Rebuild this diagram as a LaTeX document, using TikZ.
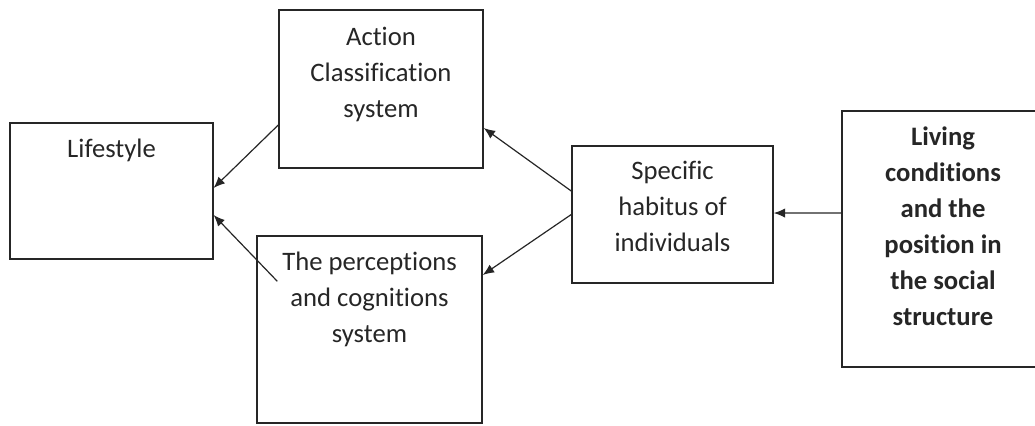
\documentclass[tikz,border=0pt]{standalone}
\usepackage{fontspec}
\setmainfont{Carlito}[Ligatures=NoCommon]
\usetikzlibrary{arrows.meta}
\begin{document}
\begin{tikzpicture}[x=0.75pt, y=-0.75pt, >={Latex[length=8.5pt,width=7pt]}]
		\tikzset{recstyle/.style={rectangle, draw=black!85, line width=1.1pt, inner sep=0pt}}
		\tikzset{txtstyle/.style={anchor=north, align=center, inner sep=0pt, text=black!85, font=\fontsize{20}{27}\selectfont}}
		\tikzset{arrstyle/.style={->, draw=black!85, line width=0.9pt}}
		
		\clip (0,0) rectangle (1035,425);
		\node[recstyle, minimum width=152pt, minimum height=102pt] (rectlife) at (111.5,191) {};
		\node[recstyle, minimum width=153pt, minimum height=118.5pt] (rectact) at (381,89) {};
		\node[recstyle, minimum width=168.75pt, minimum height=140.25pt] (rectperc) at (369.5,329.5) {};
		\node[recstyle, minimum width=150.75pt, minimum height=102.75pt] (rectspec) at (672.5,214.5) {};
		\node[recstyle, minimum width=151.5pt, minimum height=192pt] (rectliving) at (943,239) {};
		
		\node[txtstyle] (txtlife) at ([yshift=-12pt]rectlife.north) {Lifestyle};
		\node[txtstyle] (txtact) at ([yshift=-13.5pt]rectact.north) {Action\\Classification\\system};
		\node[txtstyle] (txtperc) at ([yshift=-12pt]rectperc.north) {The perceptions\\and cognitions\\system};
		\node[txtstyle] (txtspec) at ([yshift=-12pt]rectspec.north) {Specific\\habitus of\\individuals};
		\node[txtstyle, font=\fontsize{20}{27}\selectfont\bfseries] (txtliving) at ([yshift=-12pt]rectliving.north) {Living\\conditions\\and the\\position in\\the social\\structure};
		
		\draw [arrstyle] ([yshift=-27pt]rectact.west) to ([yshift=2.25pt]rectlife.east);
		\draw [arrstyle] ([shift={(15.75pt,-34.5pt)}]rectperc.north west) to ([yshift=-18pt]rectlife.east);
		\draw [arrstyle] ([yshift=17.6pt]rectspec.west) to ([yshift=-29.25pt]rectact.east);
		\draw [arrstyle] (rectspec.west) to ([yshift=40.9pt]rectperc.east);
		\draw [arrstyle] ([yshift=19.5pt]rectliving.west) to ([yshift=1.1pt]rectspec.east);
		
\end{tikzpicture}
\end{document}
